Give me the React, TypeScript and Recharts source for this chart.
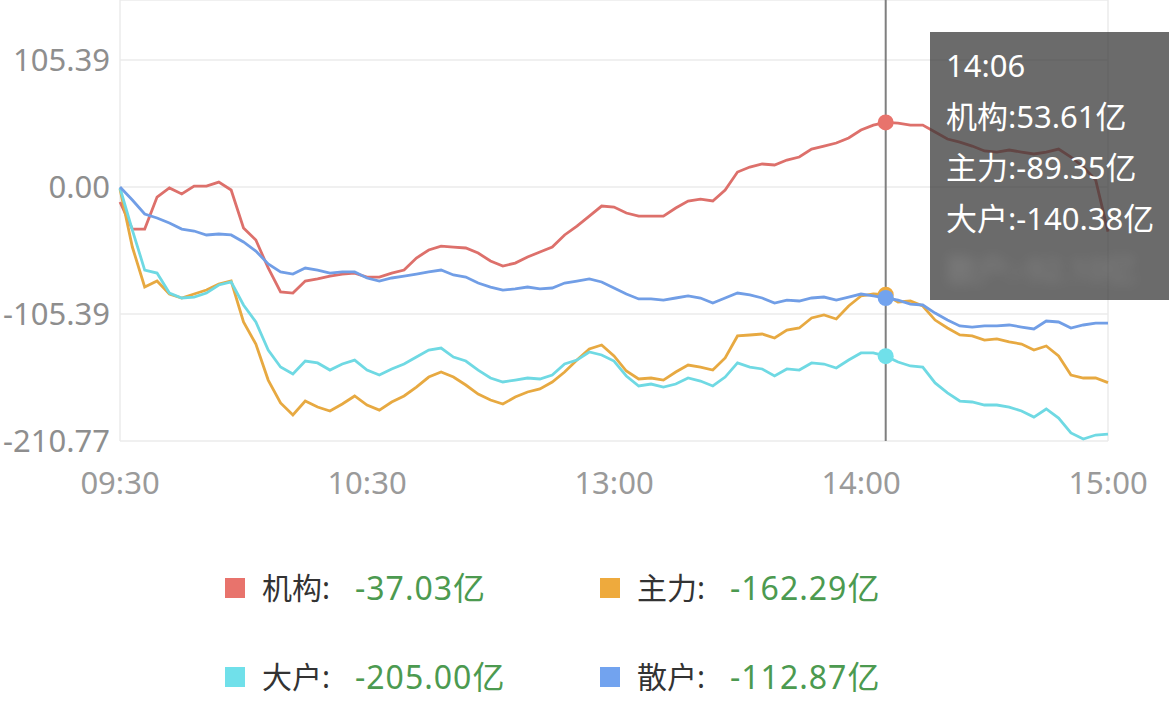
import { LineChart, Line, XAxis, YAxis, CartesianGrid, Tooltip, ReferenceLine } from "recharts";

const FONT = '"Noto Sans", "Noto Sans CJK SC", sans-serif';

const seriesKeys = ["jigou", "zhuli", "dahu", "sanhu"];
const seriesNames = ["机构", "主力", "大户", "散户"];
const lineColors = ["#dd706b", "#e7a941", "#6fd9e3", "#719ee6"];
const legendColors = ["#e8736c", "#eeaa3d", "#70e0ea", "#72a3ef"];

// one reading every 3 minutes, 09:30 -> 15:00 (240 trading minutes)
const jigou = [
  -12.4, -34.9, -34.9, -8.3, -0.8, -5.8, 0.8, 0.8, 4.1, -2.5,
  -34.0, -44.0, -67.2, -87.1, -88.0, -78.0, -76.3, -73.9, -72.2, -71.4,
  -74.7, -74.7, -71.4, -68.9, -58.9, -52.3, -49.0, -49.8, -50.6, -54.8,
  -61.4, -65.6, -63.1, -58.1, -53.9, -49.8, -39.8, -32.4, -24.1, -15.8,
  -16.6, -21.6, -24.1, -24.1, -24.1, -17.4, -11.6, -10.0, -11.6, -2.5,
  12.4, 16.6, 19.1, 18.3, 22.4, 24.9, 31.5, 34.0, 36.5, 40.7,
  47.3, 51.4, 53.61, 53.1, 51.4, 51.4, 45.6, 39.8, 37.3, 34.0,
  29.9, 29.0, 30.7, 29.0, 27.4, 29.0, 31.5, 24.9, 16.6, 5.8,
  -37.03,
];
const zhuli = [
  -1.7, -49.8, -83.0, -78.0, -88.8, -92.1, -88.8, -85.5, -80.5, -78.0,
  -112.0, -130.3, -160.2, -179.2, -189.2, -177.6, -182.6, -185.9, -180.1, -173.4,
  -180.9, -185.1, -178.4, -173.4, -166.0, -157.7, -153.5, -157.7, -164.3, -171.8,
  -176.8, -180.1, -174.3, -170.1, -167.6, -161.8, -153.5, -143.6, -134.4, -131.1,
  -140.2, -152.7, -159.3, -158.5, -160.2, -153.5, -147.7, -149.4, -151.9, -141.9,
  -123.6, -122.8, -122.0, -125.3, -118.7, -117.0, -108.7, -106.2, -109.5, -98.7,
  -90.4, -88.8, -89.35, -95.4, -94.6, -98.7, -110.4, -117.0, -122.8, -123.6,
  -127.0, -126.1, -128.6, -130.3, -135.3, -131.9, -140.2, -156.0, -158.5, -158.5,
  -162.29,
];
const dahu = [
  -0.8, -35.7, -68.9, -71.4, -88.0, -92.1, -91.3, -88.0, -81.3, -78.8,
  -97.9, -112.0, -135.3, -149.4, -155.2, -144.4, -146.0, -151.9, -146.9, -143.6,
  -151.9, -156.0, -151.0, -146.9, -141.1, -135.3, -133.6, -141.1, -144.4, -151.9,
  -158.5, -161.8, -160.2, -158.5, -159.3, -156.0, -146.9, -143.6, -136.9, -139.4,
  -144.4, -156.8, -165.1, -163.5, -166.0, -163.5, -158.5, -161.0, -165.1, -157.7,
  -146.0, -149.4, -151.0, -156.8, -151.0, -151.9, -146.0, -146.9, -150.2, -143.6,
  -137.7, -137.7, -140.38, -145.2, -148.5, -149.4, -162.6, -170.9, -177.6, -178.4,
  -180.9, -180.9, -182.6, -185.9, -190.9, -184.2, -191.7, -204.1, -209.1, -205.8,
  -205.0,
];
const sanhu = [
  0, -10.8, -22.4, -25.7, -29.9, -34.9, -36.5, -39.8, -39.0, -39.8,
  -45.6, -53.1, -63.9, -70.5, -72.2, -67.2, -68.9, -71.4, -70.5, -70.5,
  -75.5, -78.0, -75.5, -73.9, -72.2, -70.5, -68.9, -73.0, -74.7, -79.7,
  -83.0, -85.5, -84.6, -83.0, -84.6, -83.8, -79.7, -78.0, -76.3, -78.8,
  -83.8, -88.8, -92.9, -92.9, -93.8, -92.1, -90.4, -92.1, -96.3, -92.1,
  -88.0, -89.6, -92.1, -96.3, -93.8, -94.6, -92.1, -91.3, -93.8, -91.3,
  -88.8, -90.4, -92.1, -93.8, -97.1, -97.9, -104.6, -110.4, -115.3, -116.2,
  -115.3, -115.3, -114.5, -116.2, -117.8, -111.2, -112.0, -117.0, -114.5, -112.9,
  -112.87,
];

const yTicks = [105.39, 0, -105.39, -210.77];
const xTicks = [0, 60, 120, 180, 240];
const xTickLabels = ["09:30", "10:30", "13:00", "14:00", "15:00"];
const STEP = 3;
const ACTIVE_INDEX = 62; // 14:06

const pad = (n: number) => String(n).padStart(2, "0");
const clock = (m: number) => {
  const t = m <= 120 ? 9 * 60 + 30 + m : 13 * 60 + (m - 120);
  return `${pad(Math.floor(t / 60))}:${pad(t % 60)}`;
};

const data = jigou.map((v, i) => ({
  m: i * STEP,
  time: clock(i * STEP),
  jigou: v,
  zhuli: zhuli[i],
  dahu: dahu[i],
  sanhu: sanhu[i],
}));

const series = [jigou, zhuli, dahu, sanhu];

function TipBox({ active, payload }: any) {
  if (!active || !payload || !payload.length) return null;
  const row = payload[0].payload;
  return (
    <div
      style={{
        width: 239,
        height: 268,
        boxSizing: "border-box",
        padding: "8px 0 0 16px",
        background: "rgba(55,55,55,0.74)",
        color: "#fff",
        fontFamily: FONT,
        fontSize: 31,
        lineHeight: "51px",
        whiteSpace: "nowrap",
        overflow: "hidden",
      }}
    >
      <div>{row.time}</div>
      {payload.slice(0, 3).map((p: any) => (
        <div key={p.dataKey}>
          {p.name}:{Number(p.value).toFixed(2)}亿
        </div>
      ))}
      <div style={{ filter: "blur(6px)", opacity: 0.15 }}>
        {seriesNames[3]}:{Number(row.sanhu).toFixed(2)}亿
      </div>
    </div>
  );
}

export default function App() {
  return (
    <div
      style={{
        position: "absolute",
        left: 0,
        top: 0,
        width: 1169,
        height: 719,
        background: "#fff",
        overflow: "hidden",
        fontFamily: FONT,
      }}
    >
      <LineChart
        width={1169}
        height={541}
        data={data}
        margin={{ top: 0, right: 61, bottom: 0, left: 0 }}
      >
        <CartesianGrid vertical={false} stroke="#ebebeb" strokeWidth={1.5} />
        <ReferenceLine x={0} stroke="#ebebeb" strokeWidth={1.5} />
        <ReferenceLine x={240} stroke="#ebebeb" strokeWidth={1.5} />
        <XAxis
          dataKey="m"
          type="number"
          domain={[0, 240]}
          ticks={xTicks}
          interval={0}
          tickFormatter={(v: number) => xTickLabels[xTicks.indexOf(v)]}
          axisLine={false}
          tickLine={false}
          tickMargin={25}
          height={100}
          tick={{ fill: "#9a9a9a", fontSize: 31, fontFamily: FONT }}
        />
        <YAxis
          type="number"
          domain={[-210.77, 155.2]}
          ticks={yTicks}
          interval={0}
          allowDataOverflow
          tickFormatter={(v: number) => v.toFixed(2)}
          axisLine={false}
          tickLine={false}
          tickMargin={4}
          width={120}
          tick={{ fill: "#8e8e8e", fontSize: 31, fontFamily: FONT }}
        />
        <Tooltip
          active
          defaultIndex={ACTIVE_INDEX}
          position={{ x: 930, y: 32 }}
          isAnimationActive={false}
          cursor={{ stroke: "#7f7f7f", strokeWidth: 2 }}
          wrapperStyle={{ outline: "none" }}
          content={<TipBox />}
        />
        {seriesKeys.map((k, i) => (
          <Line
            key={k}
            type="linear"
            dataKey={k}
            name={seriesNames[i]}
            stroke={lineColors[i]}
            strokeWidth={2.8}
            dot={false}
            activeDot={{ r: 8, strokeWidth: 0, fill: legendColors[i] }}
            isAnimationActive={false}
          />
        ))}
      </LineChart>

      <div
        style={{
          position: "absolute",
          left: 225,
          top: 573,
          display: "grid",
          gridTemplateColumns: "375px 375px",
          rowGap: 59,
          fontSize: 30,
          lineHeight: "30px",
        }}
      >
        {seriesNames.map((name, i) => {
          const arr = series[i];
          return (
            <div key={name} style={{ display: "flex", alignItems: "center", height: 30 }}>
              <span
                style={{
                  width: 20,
                  height: 20,
                  background: legendColors[i],
                  marginRight: 17,
                  display: "inline-block",
                }}
              />
              <span style={{ color: "#333", width: 93, display: "inline-block" }}>{name}:</span>
              <span style={{ color: "#4c9a50", fontSize: 32, letterSpacing: 1 }}>
                {arr[arr.length - 1].toFixed(2)}亿
              </span>
            </div>
          );
        })}
      </div>
    </div>
  );
}
